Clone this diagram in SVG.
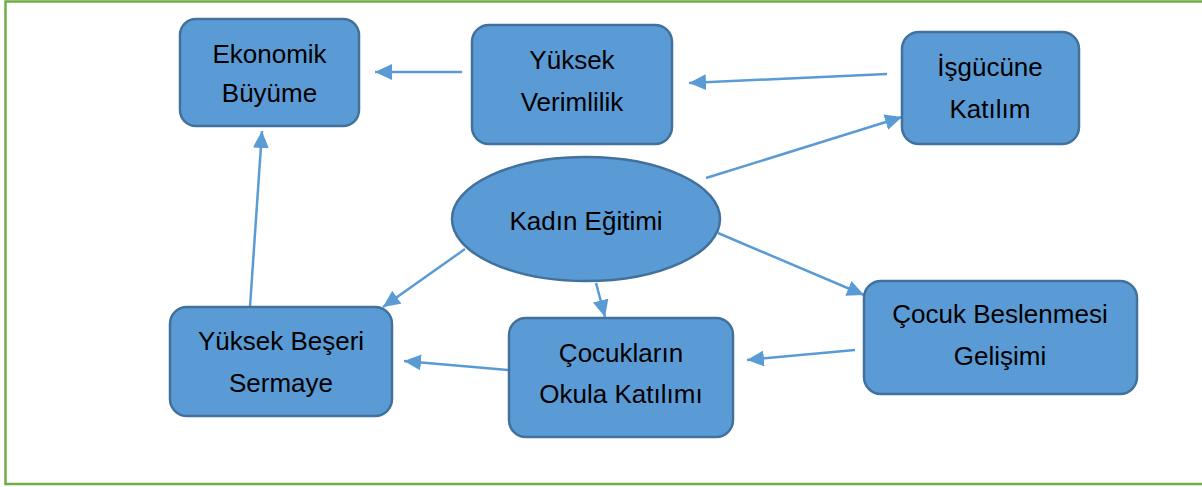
<svg xmlns="http://www.w3.org/2000/svg" width="1202" height="487" viewBox="0 0 1202 487">
<style>
.box{fill:#5B9BD5;stroke:#41719C;stroke-width:2.5}
.t{font-family:"Liberation Sans",Arial,sans-serif;font-size:26px;fill:#000;text-anchor:middle}
.c{stroke:#5B9BD5;stroke-width:2.5;fill:none;marker-end:url(#ah)}
</style>
<defs>
<marker id="ah" markerUnits="userSpaceOnUse" markerWidth="20" markerHeight="18" refX="17" refY="8" orient="auto">
<path d="M0,0 L17,8 L0,16 Z" fill="#5B9BD5"/>
</marker>
</defs>
<rect x="5.5" y="1.5" width="1200" height="482.5" fill="#fff" stroke="#70AD47" stroke-width="2.5"/>
<g id="connectors">
<line class="c" x1="462" y1="72" x2="375" y2="72"/>
<line class="c" x1="887" y1="74" x2="689" y2="83"/>
<line class="c" x1="706" y1="178" x2="902" y2="117"/>
<line class="c" x1="250" y1="307" x2="262" y2="131"/>
<line class="c" x1="465" y1="249" x2="383" y2="307"/>
<line class="c" x1="596" y1="283" x2="605" y2="317"/>
<line class="c" x1="718" y1="233" x2="864" y2="295"/>
<line class="c" x1="855" y1="350" x2="747" y2="360"/>
<line class="c" x1="508" y1="370" x2="404" y2="361"/>
</g>
<g id="ekonomik">
<rect class="box" x="180" y="19" width="179" height="107" rx="16"/>
<text class="t" x="269.5" y="63">Ekonomik</text>
<text class="t" x="269.5" y="102">Büyüme</text>
</g>
<g id="verimlilik">
<rect class="box" x="472" y="25" width="200" height="119" rx="17"/>
<text class="t" x="572" y="69">Yüksek</text>
<text class="t" x="572" y="111">Verimlilik</text>
</g>
<g id="isgucu">
<rect class="box" x="902" y="32" width="177" height="112" rx="17"/>
<text class="t" x="990" y="76">İşgücüne</text>
<text class="t" x="990" y="118">Katılım</text>
</g>
<g id="kadin">
<ellipse class="box" cx="586" cy="219" rx="134" ry="62"/>
<text class="t" x="586" y="230">Kadın Eğitimi</text>
</g>
<g id="beseri">
<rect class="box" x="170" y="307" width="222" height="109" rx="17"/>
<text class="t" x="281" y="350">Yüksek Beşeri</text>
<text class="t" x="281" y="392">Sermaye</text>
</g>
<g id="okula">
<rect class="box" x="509" y="318" width="224" height="119" rx="17"/>
<text class="t" x="621" y="362">Çocukların</text>
<text class="t" x="621" y="403">Okula Katılımı</text>
</g>
<g id="beslenme">
<rect class="box" x="864" y="281" width="273" height="113" rx="17"/>
<text class="t" x="1000" y="323">Çocuk Beslenmesi</text>
<text class="t" x="1000" y="365">Gelişimi</text>
</g>
</svg>
